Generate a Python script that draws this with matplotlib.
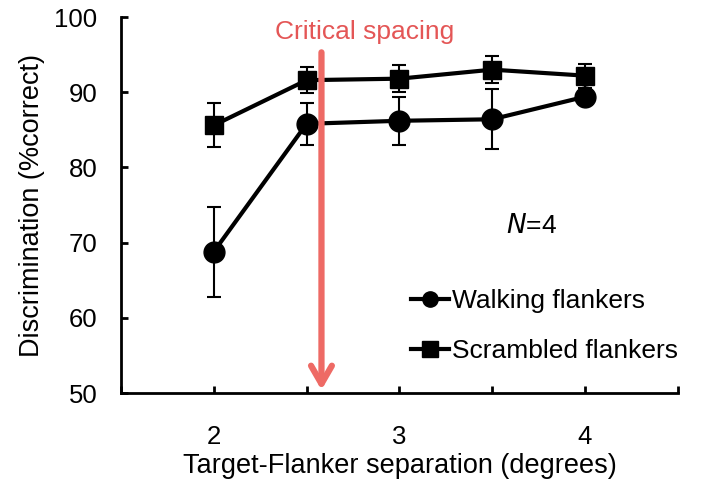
import matplotlib
matplotlib.use("Agg")
import matplotlib.pyplot as plt
from matplotlib.lines import Line2D

plt.rcParams['font.family'] = ['Liberation Sans', 'DejaVu Sans']

separation = [2, 2.5, 3, 3.5, 4]
walking = [68.8, 85.8, 86.2, 86.4, 89.4]
walking_err = [6.0, 2.8, 3.2, 4.0, 0.5]
scrambled = [85.6, 91.6, 91.8, 93.0, 92.2]
scrambled_err = [2.9, 1.7, 1.8, 1.8, 1.6]
critical = 2.58
xticks = [1.5, 2, 2.5, 3, 3.5, 4, 4.5]
xticklabels = ['', '2', '', '3', '', '4', '']
yticks = [50, 60, 70, 80, 90, 100]

fig = plt.figure(figsize=(7.01, 4.79), dpi=100)
ax = fig.add_axes([0.1726, 0.1795, 0.7944, 0.785])

ax.errorbar(separation, walking, yerr=walking_err, color='black', lw=3, marker='o',
            markersize=15, elinewidth=1.5, capsize=5, capthick=1.5, zorder=3)
ax.errorbar(separation, scrambled, yerr=scrambled_err, color='black', lw=3, marker='s',
            markersize=13, elinewidth=1.5, capsize=5, capthick=1.5, zorder=3)

red = '#ee6a65'
ax.annotate('', xy=(critical, 50.4), xytext=(critical, 95.3),
            arrowprops=dict(arrowstyle='->,head_length=1.3,head_width=0.75', color=red, lw=4.5,
                            shrinkA=0, shrinkB=0), zorder=4)
ax.text(2.81, 98.0, 'Critical spacing', color='#e45656', fontsize=19,
        ha='center', va='center')

ax.text(3.71, 72.2, r'$\it{N}$=4', fontsize=19, ha='center', va='center')

ax.set_xlim(1.5, 4.5)
ax.set_ylim(50, 100)
ax.set_xticks(xticks)
ax.set_xticklabels(xticklabels)
ax.set_yticks(yticks)
ax.tick_params(direction='in', length=5, width=2, labelsize=18.5, pad=17)
ax.tick_params(axis='x', pad=23)
for s in ['top', 'right']:
    ax.spines[s].set_visible(False)
for s in ['left', 'bottom']:
    ax.spines[s].set_linewidth(2)

ax.set_xlabel('Target-Flanker separation (degrees)', fontsize=19.5, labelpad=3)
ax.set_ylabel('Discrimination (%correct)', fontsize=19.5, labelpad=7)

handles = [Line2D([], [], color='black', lw=3, marker='o', markersize=11),
           Line2D([], [], color='black', lw=3, marker='s', markersize=11)]
ax.legend(handles, ['Walking flankers', 'Scrambled flankers'], loc='lower left',
          bbox_to_anchor=(0.492, 0.037), frameon=False, fontsize=19,
          handlelength=1.45, handletextpad=0.12, labelspacing=1.0, borderaxespad=0.2)

fig.savefig('out.png', dpi=100)
